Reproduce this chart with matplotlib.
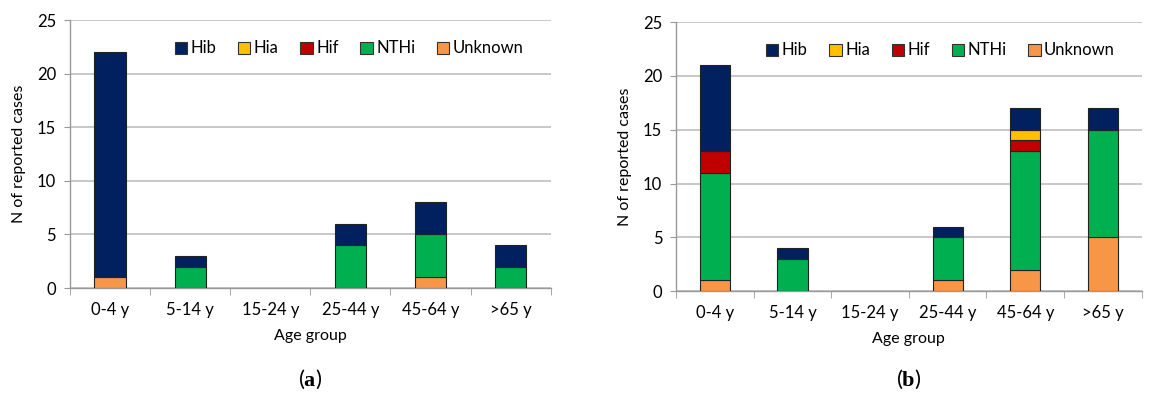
import numpy as np
from matplotlib import pyplot as plt
from matplotlib import transforms

plt.rcParams['font.family'] = ['Lato', 'DejaVu Sans']
plt.rcParams['mathtext.fontset'] = 'custom'
plt.rcParams['mathtext.rm'] = 'Liberation Serif'
plt.rcParams['mathtext.bf'] = 'Liberation Serif:bold'

# Data
age_groups = ['0-4 y', '5-14 y', '15-24 y', '25-44 y', '45-64 y', '>65 y']
series = ['Hib', 'Hia', 'Hif', 'NTHi', 'Unknown']
colors = {'Hib': '#002060', 'Hia': '#FFC000', 'Hif': '#C00000',
          'NTHi': '#00B050', 'Unknown': '#F79646'}

# panel (a)
a_unknown = [1, 0, 0, 0, 1, 0]
a_nthi = [0, 2, 0, 4, 4, 2]
a_hif = [0, 0, 0, 0, 0, 0]
a_hia = [0, 0, 0, 0, 0, 0]
a_hib = [21, 1, 0, 2, 3, 2]

# panel (b)
b_unknown = [1, 0, 0, 1, 2, 5]
b_nthi = [10, 3, 0, 4, 11, 10]
b_hif = [2, 0, 0, 0, 1, 0]
b_hia = [0, 0, 0, 0, 1, 0]
b_hib = [8, 1, 0, 1, 2, 2]

fig = plt.figure(figsize=(11.52, 3.94), dpi=100)
ax_a = fig.add_axes([0.0608, 0.269, 0.4172, 0.680])
ax_b = fig.add_axes([0.587, 0.261, 0.404, 0.683])


def draw(ax, data, letter):
    x = np.arange(len(age_groups))
    bottom = np.zeros(len(age_groups))
    handles = {}
    # stack from bottom: Unknown, NTHi, Hif, Hia, Hib
    for name in ['Unknown', 'NTHi', 'Hif', 'Hia', 'Hib']:
        vals = np.array(data[name], dtype=float)
        keep = vals > 0
        ax.bar(x[keep], vals[keep], 0.39, bottom=bottom[keep],
               color=colors[name], edgecolor='#222222', linewidth=0.8,
               zorder=3)
        # proxy for the legend, since some series have no bars
        handles[name] = plt.Rectangle((0, 0), 1, 1, facecolor=colors[name],
                                      edgecolor='#333333', linewidth=0.8)
        bottom += vals

    ax.set_xlim(-0.5, 5.5)
    ax.set_ylim(0, 25)
    ax.set_yticks([0, 5, 10, 15, 20, 25])
    ax.set_xticks(x)
    ax.set_xticklabels(age_groups)
    ax.set_xticks(np.arange(-0.5, 6, 1), minor=True)
    ax.tick_params(axis='x', which='major', length=0, pad=10, labelsize=12)
    ax.tick_params(axis='x', which='minor', length=5, color='#999999')
    ax.tick_params(axis='y', length=4, color='#999999', labelsize=12, pad=6)
    ax.grid(axis='y', color='#BFBFBF', linewidth=1.2, zorder=0)
    for s in ['top', 'right']:
        ax.spines[s].set_visible(False)
    for s in ['left', 'bottom']:
        ax.spines[s].set_color('#999999')
        ax.spines[s].set_linewidth(1.0)

    ax.set_xlabel('Age group', fontsize=11.5, labelpad=8)
    ax.set_ylabel('N of reported cases', fontsize=11.5, labelpad=8)

    ax.legend([handles[n] for n in series], series, loc='upper right',
              bbox_to_anchor=(0.975, 0.98), ncol=5, frameon=False,
              fontsize=12, handlelength=0.75, handleheight=0.75,
              handletextpad=0.2, columnspacing=1.3)

    # panel letter below the axes
    trans = transforms.blended_transform_factory(ax.transAxes, fig.transFigure)
    ax.text(0.5, 0.036, r'($\mathbf{' + letter + '}$)', transform=trans,
            ha='center', va='center', fontsize=16)


draw(ax_a, {'Hib': a_hib, 'Hia': a_hia, 'Hif': a_hif, 'NTHi': a_nthi,
            'Unknown': a_unknown}, 'a')
draw(ax_b, {'Hib': b_hib, 'Hia': b_hia, 'Hif': b_hif, 'NTHi': b_nthi,
            'Unknown': b_unknown}, 'b')

plt.savefig('out.png', dpi=100)
